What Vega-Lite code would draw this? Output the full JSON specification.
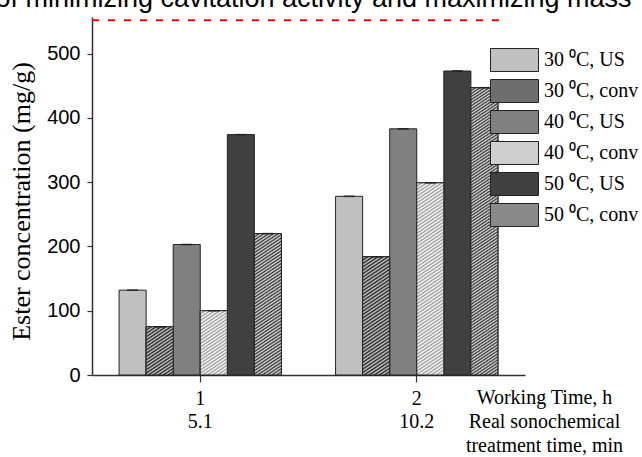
{
"$schema":"https://vega.github.io/schema/vega-lite/v6.json",
"width":433,"height":358,"autosize":"none",
"padding":{"left":92,"top":17,"right":117,"bottom":82},
"config":{"view":{"stroke":null}},
"title":{"text":"of minimizing cavitation activity and maximizing mass","font":"Liberation Sans","fontSize":27,"fontWeight":"normal","color":"#000","anchor":"middle","frame":"group","baseline":"alphabetic","offset":-1.5,"dx":5,"dy":15},
"layer":[
{"data":{"values":[
{"time":"1","series":"30 ⁰C, US","conc":132},
{"time":"1","series":"30 ⁰C, conv","conc":75},
{"time":"1","series":"40 ⁰C, US","conc":203},
{"time":"1","series":"40 ⁰C, conv","conc":100},
{"time":"1","series":"50 ⁰C, US","conc":374},
{"time":"1","series":"50 ⁰C, conv","conc":220},
{"time":"2","series":"30 ⁰C, US","conc":278},
{"time":"2","series":"30 ⁰C, conv","conc":184},
{"time":"2","series":"40 ⁰C, US","conc":383},
{"time":"2","series":"40 ⁰C, conv","conc":299},
{"time":"2","series":"50 ⁰C, US","conc":473},
{"time":"2","series":"50 ⁰C, conv","conc":447}]},
"encoding":{
"x":{"field":"time","type":"nominal","scale":{"domain":["1","2"],"paddingInner":0,"paddingOuter":0},
 "axis":{"title":["Working Time, h","Real sonochemical","treatment time, min"],"titleFont":"Liberation Serif","titleFontSize":20,"titleFontWeight":"normal","titleColor":"#000","titleX":452,"titleY":12,"titleAlign":"center","titleBaseline":"top","titleLineHeight":24,
 "labelAngle":0,"labelFont":"Liberation Serif","labelFontSize":20,"labelColor":"#000","labelBaseline":"alphabetic","labelPadding":22,
 "tickSize":7,"tickColor":"#333","tickWidth":1.2,"domainColor":"#333","domainWidth":1.5,"grid":false}},
"xOffset":{"field":"series","type":"nominal","scale":{"domain":["30 ⁰C, US","30 ⁰C, conv","40 ⁰C, US","40 ⁰C, conv","50 ⁰C, US","50 ⁰C, conv"],"paddingInner":0,"paddingOuter":3}},
"y":{"field":"conc","type":"quantitative","scale":{"domain":[0,557],"nice":false},
 "axis":{"title":"Ester concentration (mg/g)","titleFont":"Liberation Serif","titleFontSize":26,"titleFontWeight":"normal","titleColor":"#000","titleX":-58,"titleY":184,"titleAlign":"center","titleBaseline":"bottom","titleAngle":-90,
 "values":[0,50,100,150,200,250,300,350,400,450,500,550],"labelExpr":"datum.value % 100 === 0 ? datum.label : ''",
 "labelFont":"Liberation Sans","labelFontSize":20,"labelColor":"#000","labelPadding":7,"tickSize":5,"tickColor":"#333","tickWidth":1.2,"domainColor":"#333","domainWidth":1.5,"grid":false}}
},
"layer":[
{"mark":{"type":"bar","stroke":"#222","strokeWidth":1},
 "encoding":{"fill":{"field":"series","type":"nominal","scale":{"domain":["30 ⁰C, US","30 ⁰C, conv","40 ⁰C, US","40 ⁰C, conv","50 ⁰C, US","50 ⁰C, conv"],"range":["#c0c0c0","#6e6e6e","#808080","#cfcfcf","#404040","#8a8a8a"]},
 "legend":{"orient":"none","legendX":398,"legendY":31,"title":null,"padding":0,"symbolType":"M-1,-0.479H1V0.479H-1Z","symbolSize":2304,"symbolStrokeColor":"#222","symbolStrokeWidth":1,"symbolOpacity":1,"clipHeight":24,"rowPadding":7,"labelOffset":5,"labelFont":"Liberation Serif","labelFontSize":20,"labelColor":"#000","labelLimit":0}}}},
{"transform":[{"filter":"datum.time == '1' && datum.series == '30 ⁰C, conv'"}],
 "mark":{"type":"bar","stroke":"#222","strokeWidth":1,"fill":{"gradient":"linear","x1":0,"y1":0,"x2":0.4512,"y2":1.2054,"stops":[{"offset":0,"color":"#222"},{"offset":0.025,"color":"#ccc"},{"offset":0.05,"color":"#222"},{"offset":0.075,"color":"#ccc"},{"offset":0.1,"color":"#222"},{"offset":0.125,"color":"#ccc"},{"offset":0.15,"color":"#222"},{"offset":0.175,"color":"#ccc"},{"offset":0.2,"color":"#222"},{"offset":0.225,"color":"#ccc"},{"offset":0.25,"color":"#222"},{"offset":0.275,"color":"#ccc"},{"offset":0.3,"color":"#222"},{"offset":0.325,"color":"#ccc"},{"offset":0.35,"color":"#222"},{"offset":0.375,"color":"#ccc"},{"offset":0.4,"color":"#222"},{"offset":0.425,"color":"#ccc"},{"offset":0.45,"color":"#222"},{"offset":0.475,"color":"#ccc"},{"offset":0.5,"color":"#222"},{"offset":0.525,"color":"#ccc"},{"offset":0.55,"color":"#222"},{"offset":0.575,"color":"#ccc"},{"offset":0.6,"color":"#222"},{"offset":0.625,"color":"#ccc"},{"offset":0.65,"color":"#222"},{"offset":0.675,"color":"#ccc"},{"offset":0.7,"color":"#222"},{"offset":0.725,"color":"#ccc"},{"offset":0.75,"color":"#222"},{"offset":0.775,"color":"#ccc"},{"offset":0.8,"color":"#222"},{"offset":0.825,"color":"#ccc"},{"offset":0.85,"color":"#222"},{"offset":0.875,"color":"#ccc"},{"offset":0.9,"color":"#222"},{"offset":0.925,"color":"#ccc"},{"offset":0.95,"color":"#222"},{"offset":0.975,"color":"#ccc"},{"offset":1,"color":"#222"}]}}},
{"transform":[{"filter":"datum.time == '1' && datum.series == '40 ⁰C, conv'"}],
 "mark":{"type":"bar","stroke":"#222","strokeWidth":1,"fill":{"gradient":"linear","x1":0,"y1":0,"x2":0.3332,"y2":1.1872,"stops":[{"offset":0,"color":"#999"},{"offset":0.02,"color":"#fff"},{"offset":0.04,"color":"#999"},{"offset":0.06,"color":"#fff"},{"offset":0.08,"color":"#999"},{"offset":0.1,"color":"#fff"},{"offset":0.12,"color":"#999"},{"offset":0.14,"color":"#fff"},{"offset":0.16,"color":"#999"},{"offset":0.18,"color":"#fff"},{"offset":0.2,"color":"#999"},{"offset":0.22,"color":"#fff"},{"offset":0.24,"color":"#999"},{"offset":0.26,"color":"#fff"},{"offset":0.28,"color":"#999"},{"offset":0.3,"color":"#fff"},{"offset":0.32,"color":"#999"},{"offset":0.34,"color":"#fff"},{"offset":0.36,"color":"#999"},{"offset":0.38,"color":"#fff"},{"offset":0.4,"color":"#999"},{"offset":0.42,"color":"#fff"},{"offset":0.44,"color":"#999"},{"offset":0.46,"color":"#fff"},{"offset":0.48,"color":"#999"},{"offset":0.5,"color":"#fff"},{"offset":0.52,"color":"#999"},{"offset":0.54,"color":"#fff"},{"offset":0.56,"color":"#999"},{"offset":0.58,"color":"#fff"},{"offset":0.6,"color":"#999"},{"offset":0.62,"color":"#fff"},{"offset":0.64,"color":"#999"},{"offset":0.66,"color":"#fff"},{"offset":0.68,"color":"#999"},{"offset":0.7,"color":"#fff"},{"offset":0.72,"color":"#999"},{"offset":0.74,"color":"#fff"},{"offset":0.76,"color":"#999"},{"offset":0.78,"color":"#fff"},{"offset":0.8,"color":"#999"},{"offset":0.82,"color":"#fff"},{"offset":0.84,"color":"#999"},{"offset":0.86,"color":"#fff"},{"offset":0.88,"color":"#999"},{"offset":0.9,"color":"#fff"},{"offset":0.92,"color":"#999"},{"offset":0.94,"color":"#fff"},{"offset":0.96,"color":"#999"},{"offset":0.98,"color":"#fff"},{"offset":1,"color":"#999"}]}}},
{"transform":[{"filter":"datum.time == '1' && datum.series == '50 ⁰C, conv'"}],
 "mark":{"type":"bar","stroke":"#222","strokeWidth":1,"fill":{"gradient":"linear","x1":0,"y1":0,"x2":0.1416,"y2":1.1095,"stops":[{"offset":0,"color":"#333"},{"offset":0.01,"color":"#ddd"},{"offset":0.02,"color":"#333"},{"offset":0.03,"color":"#ddd"},{"offset":0.04,"color":"#333"},{"offset":0.05,"color":"#ddd"},{"offset":0.06,"color":"#333"},{"offset":0.07,"color":"#ddd"},{"offset":0.08,"color":"#333"},{"offset":0.09,"color":"#ddd"},{"offset":0.1,"color":"#333"},{"offset":0.11,"color":"#ddd"},{"offset":0.12,"color":"#333"},{"offset":0.13,"color":"#ddd"},{"offset":0.14,"color":"#333"},{"offset":0.15,"color":"#ddd"},{"offset":0.16,"color":"#333"},{"offset":0.17,"color":"#ddd"},{"offset":0.18,"color":"#333"},{"offset":0.19,"color":"#ddd"},{"offset":0.2,"color":"#333"},{"offset":0.21,"color":"#ddd"},{"offset":0.22,"color":"#333"},{"offset":0.23,"color":"#ddd"},{"offset":0.24,"color":"#333"},{"offset":0.25,"color":"#ddd"},{"offset":0.26,"color":"#333"},{"offset":0.27,"color":"#ddd"},{"offset":0.28,"color":"#333"},{"offset":0.29,"color":"#ddd"},{"offset":0.3,"color":"#333"},{"offset":0.31,"color":"#ddd"},{"offset":0.32,"color":"#333"},{"offset":0.33,"color":"#ddd"},{"offset":0.34,"color":"#333"},{"offset":0.35,"color":"#ddd"},{"offset":0.36,"color":"#333"},{"offset":0.37,"color":"#ddd"},{"offset":0.38,"color":"#333"},{"offset":0.39,"color":"#ddd"},{"offset":0.4,"color":"#333"},{"offset":0.41,"color":"#ddd"},{"offset":0.42,"color":"#333"},{"offset":0.43,"color":"#ddd"},{"offset":0.44,"color":"#333"},{"offset":0.45,"color":"#ddd"},{"offset":0.46,"color":"#333"},{"offset":0.47,"color":"#ddd"},{"offset":0.48,"color":"#333"},{"offset":0.49,"color":"#ddd"},{"offset":0.5,"color":"#333"},{"offset":0.51,"color":"#ddd"},{"offset":0.52,"color":"#333"},{"offset":0.53,"color":"#ddd"},{"offset":0.54,"color":"#333"},{"offset":0.55,"color":"#ddd"},{"offset":0.56,"color":"#333"},{"offset":0.57,"color":"#ddd"},{"offset":0.58,"color":"#333"},{"offset":0.59,"color":"#ddd"},{"offset":0.6,"color":"#333"},{"offset":0.61,"color":"#ddd"},{"offset":0.62,"color":"#333"},{"offset":0.63,"color":"#ddd"},{"offset":0.64,"color":"#333"},{"offset":0.65,"color":"#ddd"},{"offset":0.66,"color":"#333"},{"offset":0.67,"color":"#ddd"},{"offset":0.68,"color":"#333"},{"offset":0.69,"color":"#ddd"},{"offset":0.7,"color":"#333"},{"offset":0.71,"color":"#ddd"},{"offset":0.72,"color":"#333"},{"offset":0.73,"color":"#ddd"},{"offset":0.74,"color":"#333"},{"offset":0.75,"color":"#ddd"},{"offset":0.76,"color":"#333"},{"offset":0.77,"color":"#ddd"},{"offset":0.78,"color":"#333"},{"offset":0.79,"color":"#ddd"},{"offset":0.8,"color":"#333"},{"offset":0.81,"color":"#ddd"},{"offset":0.82,"color":"#333"},{"offset":0.83,"color":"#ddd"},{"offset":0.84,"color":"#333"},{"offset":0.85,"color":"#ddd"},{"offset":0.86,"color":"#333"},{"offset":0.87,"color":"#ddd"},{"offset":0.88,"color":"#333"},{"offset":0.89,"color":"#ddd"},{"offset":0.9,"color":"#333"},{"offset":0.91,"color":"#ddd"},{"offset":0.92,"color":"#333"},{"offset":0.93,"color":"#ddd"},{"offset":0.94,"color":"#333"},{"offset":0.95,"color":"#ddd"},{"offset":0.96,"color":"#333"},{"offset":0.97,"color":"#ddd"},{"offset":0.98,"color":"#333"},{"offset":0.99,"color":"#ddd"},{"offset":1,"color":"#333"}]}}},
{"transform":[{"filter":"datum.time == '2' && datum.series == '30 ⁰C, conv'"}],
 "mark":{"type":"bar","stroke":"#222","strokeWidth":1,"fill":{"gradient":"linear","x1":0,"y1":0,"x2":0.1718,"y2":1.1263,"stops":[{"offset":0,"color":"#222"},{"offset":0.0125,"color":"#ccc"},{"offset":0.025,"color":"#222"},{"offset":0.0375,"color":"#ccc"},{"offset":0.05,"color":"#222"},{"offset":0.0625,"color":"#ccc"},{"offset":0.075,"color":"#222"},{"offset":0.0875,"color":"#ccc"},{"offset":0.1,"color":"#222"},{"offset":0.1125,"color":"#ccc"},{"offset":0.125,"color":"#222"},{"offset":0.1375,"color":"#ccc"},{"offset":0.15,"color":"#222"},{"offset":0.1625,"color":"#ccc"},{"offset":0.175,"color":"#222"},{"offset":0.1875,"color":"#ccc"},{"offset":0.2,"color":"#222"},{"offset":0.2125,"color":"#ccc"},{"offset":0.225,"color":"#222"},{"offset":0.2375,"color":"#ccc"},{"offset":0.25,"color":"#222"},{"offset":0.2625,"color":"#ccc"},{"offset":0.275,"color":"#222"},{"offset":0.2875,"color":"#ccc"},{"offset":0.3,"color":"#222"},{"offset":0.3125,"color":"#ccc"},{"offset":0.325,"color":"#222"},{"offset":0.3375,"color":"#ccc"},{"offset":0.35,"color":"#222"},{"offset":0.3625,"color":"#ccc"},{"offset":0.375,"color":"#222"},{"offset":0.3875,"color":"#ccc"},{"offset":0.4,"color":"#222"},{"offset":0.4125,"color":"#ccc"},{"offset":0.425,"color":"#222"},{"offset":0.4375,"color":"#ccc"},{"offset":0.45,"color":"#222"},{"offset":0.4625,"color":"#ccc"},{"offset":0.475,"color":"#222"},{"offset":0.4875,"color":"#ccc"},{"offset":0.5,"color":"#222"},{"offset":0.5125,"color":"#ccc"},{"offset":0.525,"color":"#222"},{"offset":0.5375,"color":"#ccc"},{"offset":0.55,"color":"#222"},{"offset":0.5625,"color":"#ccc"},{"offset":0.575,"color":"#222"},{"offset":0.5875,"color":"#ccc"},{"offset":0.6,"color":"#222"},{"offset":0.6125,"color":"#ccc"},{"offset":0.625,"color":"#222"},{"offset":0.6375,"color":"#ccc"},{"offset":0.65,"color":"#222"},{"offset":0.6625,"color":"#ccc"},{"offset":0.675,"color":"#222"},{"offset":0.6875,"color":"#ccc"},{"offset":0.7,"color":"#222"},{"offset":0.7125,"color":"#ccc"},{"offset":0.725,"color":"#222"},{"offset":0.7375,"color":"#ccc"},{"offset":0.75,"color":"#222"},{"offset":0.7625,"color":"#ccc"},{"offset":0.775,"color":"#222"},{"offset":0.7875,"color":"#ccc"},{"offset":0.8,"color":"#222"},{"offset":0.8125,"color":"#ccc"},{"offset":0.825,"color":"#222"},{"offset":0.8375,"color":"#ccc"},{"offset":0.85,"color":"#222"},{"offset":0.8625,"color":"#ccc"},{"offset":0.875,"color":"#222"},{"offset":0.8875,"color":"#ccc"},{"offset":0.9,"color":"#222"},{"offset":0.9125,"color":"#ccc"},{"offset":0.925,"color":"#222"},{"offset":0.9375,"color":"#ccc"},{"offset":0.95,"color":"#222"},{"offset":0.9625,"color":"#ccc"},{"offset":0.975,"color":"#222"},{"offset":0.9875,"color":"#ccc"},{"offset":1,"color":"#222"}]}}},
{"transform":[{"filter":"datum.time == '2' && datum.series == '40 ⁰C, conv'"}],
 "mark":{"type":"bar","stroke":"#222","strokeWidth":1,"fill":{"gradient":"linear","x1":0,"y1":0,"x2":0.1018,"y2":1.0843,"stops":[{"offset":0,"color":"#999"},{"offset":0.008,"color":"#fff"},{"offset":0.016,"color":"#999"},{"offset":0.024,"color":"#fff"},{"offset":0.032,"color":"#999"},{"offset":0.04,"color":"#fff"},{"offset":0.048,"color":"#999"},{"offset":0.056,"color":"#fff"},{"offset":0.064,"color":"#999"},{"offset":0.072,"color":"#fff"},{"offset":0.08,"color":"#999"},{"offset":0.088,"color":"#fff"},{"offset":0.096,"color":"#999"},{"offset":0.104,"color":"#fff"},{"offset":0.112,"color":"#999"},{"offset":0.12,"color":"#fff"},{"offset":0.128,"color":"#999"},{"offset":0.136,"color":"#fff"},{"offset":0.144,"color":"#999"},{"offset":0.152,"color":"#fff"},{"offset":0.16,"color":"#999"},{"offset":0.168,"color":"#fff"},{"offset":0.176,"color":"#999"},{"offset":0.184,"color":"#fff"},{"offset":0.192,"color":"#999"},{"offset":0.2,"color":"#fff"},{"offset":0.208,"color":"#999"},{"offset":0.216,"color":"#fff"},{"offset":0.224,"color":"#999"},{"offset":0.232,"color":"#fff"},{"offset":0.24,"color":"#999"},{"offset":0.248,"color":"#fff"},{"offset":0.256,"color":"#999"},{"offset":0.264,"color":"#fff"},{"offset":0.272,"color":"#999"},{"offset":0.28,"color":"#fff"},{"offset":0.288,"color":"#999"},{"offset":0.296,"color":"#fff"},{"offset":0.304,"color":"#999"},{"offset":0.312,"color":"#fff"},{"offset":0.32,"color":"#999"},{"offset":0.328,"color":"#fff"},{"offset":0.336,"color":"#999"},{"offset":0.344,"color":"#fff"},{"offset":0.352,"color":"#999"},{"offset":0.36,"color":"#fff"},{"offset":0.368,"color":"#999"},{"offset":0.376,"color":"#fff"},{"offset":0.384,"color":"#999"},{"offset":0.392,"color":"#fff"},{"offset":0.4,"color":"#999"},{"offset":0.408,"color":"#fff"},{"offset":0.416,"color":"#999"},{"offset":0.424,"color":"#fff"},{"offset":0.432,"color":"#999"},{"offset":0.44,"color":"#fff"},{"offset":0.448,"color":"#999"},{"offset":0.456,"color":"#fff"},{"offset":0.464,"color":"#999"},{"offset":0.472,"color":"#fff"},{"offset":0.48,"color":"#999"},{"offset":0.488,"color":"#fff"},{"offset":0.496,"color":"#999"},{"offset":0.504,"color":"#fff"},{"offset":0.512,"color":"#999"},{"offset":0.52,"color":"#fff"},{"offset":0.528,"color":"#999"},{"offset":0.536,"color":"#fff"},{"offset":0.544,"color":"#999"},{"offset":0.552,"color":"#fff"},{"offset":0.56,"color":"#999"},{"offset":0.568,"color":"#fff"},{"offset":0.576,"color":"#999"},{"offset":0.584,"color":"#fff"},{"offset":0.592,"color":"#999"},{"offset":0.6,"color":"#fff"},{"offset":0.608,"color":"#999"},{"offset":0.616,"color":"#fff"},{"offset":0.624,"color":"#999"},{"offset":0.632,"color":"#fff"},{"offset":0.64,"color":"#999"},{"offset":0.648,"color":"#fff"},{"offset":0.656,"color":"#999"},{"offset":0.664,"color":"#fff"},{"offset":0.672,"color":"#999"},{"offset":0.68,"color":"#fff"},{"offset":0.688,"color":"#999"},{"offset":0.696,"color":"#fff"},{"offset":0.704,"color":"#999"},{"offset":0.712,"color":"#fff"},{"offset":0.72,"color":"#999"},{"offset":0.728,"color":"#fff"},{"offset":0.736,"color":"#999"},{"offset":0.744,"color":"#fff"},{"offset":0.752,"color":"#999"},{"offset":0.76,"color":"#fff"},{"offset":0.768,"color":"#999"},{"offset":0.776,"color":"#fff"},{"offset":0.784,"color":"#999"},{"offset":0.792,"color":"#fff"},{"offset":0.8,"color":"#999"},{"offset":0.808,"color":"#fff"},{"offset":0.816,"color":"#999"},{"offset":0.824,"color":"#fff"},{"offset":0.832,"color":"#999"},{"offset":0.84,"color":"#fff"},{"offset":0.848,"color":"#999"},{"offset":0.856,"color":"#fff"},{"offset":0.864,"color":"#999"},{"offset":0.872,"color":"#fff"},{"offset":0.88,"color":"#999"},{"offset":0.888,"color":"#fff"},{"offset":0.896,"color":"#999"},{"offset":0.904,"color":"#fff"},{"offset":0.912,"color":"#999"},{"offset":0.92,"color":"#fff"},{"offset":0.928,"color":"#999"},{"offset":0.936,"color":"#fff"},{"offset":0.944,"color":"#999"},{"offset":0.952,"color":"#fff"},{"offset":0.96,"color":"#999"},{"offset":0.968,"color":"#fff"},{"offset":0.976,"color":"#999"},{"offset":0.984,"color":"#fff"},{"offset":0.992,"color":"#999"},{"offset":1,"color":"#fff"}]}}},
{"transform":[{"filter":"datum.time == '2' && datum.series == '50 ⁰C, conv'"}],
 "mark":{"type":"bar","stroke":"#222","strokeWidth":1,"fill":{"gradient":"linear","x1":0,"y1":0,"x2":0.0665,"y2":1.0586,"stops":[{"offset":0,"color":"#333"},{"offset":0.005,"color":"#ddd"},{"offset":0.01,"color":"#333"},{"offset":0.015,"color":"#ddd"},{"offset":0.02,"color":"#333"},{"offset":0.025,"color":"#ddd"},{"offset":0.03,"color":"#333"},{"offset":0.035,"color":"#ddd"},{"offset":0.04,"color":"#333"},{"offset":0.045,"color":"#ddd"},{"offset":0.05,"color":"#333"},{"offset":0.055,"color":"#ddd"},{"offset":0.06,"color":"#333"},{"offset":0.065,"color":"#ddd"},{"offset":0.07,"color":"#333"},{"offset":0.075,"color":"#ddd"},{"offset":0.08,"color":"#333"},{"offset":0.085,"color":"#ddd"},{"offset":0.09,"color":"#333"},{"offset":0.095,"color":"#ddd"},{"offset":0.1,"color":"#333"},{"offset":0.105,"color":"#ddd"},{"offset":0.11,"color":"#333"},{"offset":0.115,"color":"#ddd"},{"offset":0.12,"color":"#333"},{"offset":0.125,"color":"#ddd"},{"offset":0.13,"color":"#333"},{"offset":0.135,"color":"#ddd"},{"offset":0.14,"color":"#333"},{"offset":0.145,"color":"#ddd"},{"offset":0.15,"color":"#333"},{"offset":0.155,"color":"#ddd"},{"offset":0.16,"color":"#333"},{"offset":0.165,"color":"#ddd"},{"offset":0.17,"color":"#333"},{"offset":0.175,"color":"#ddd"},{"offset":0.18,"color":"#333"},{"offset":0.185,"color":"#ddd"},{"offset":0.19,"color":"#333"},{"offset":0.195,"color":"#ddd"},{"offset":0.2,"color":"#333"},{"offset":0.205,"color":"#ddd"},{"offset":0.21,"color":"#333"},{"offset":0.215,"color":"#ddd"},{"offset":0.22,"color":"#333"},{"offset":0.225,"color":"#ddd"},{"offset":0.23,"color":"#333"},{"offset":0.235,"color":"#ddd"},{"offset":0.24,"color":"#333"},{"offset":0.245,"color":"#ddd"},{"offset":0.25,"color":"#333"},{"offset":0.255,"color":"#ddd"},{"offset":0.26,"color":"#333"},{"offset":0.265,"color":"#ddd"},{"offset":0.27,"color":"#333"},{"offset":0.275,"color":"#ddd"},{"offset":0.28,"color":"#333"},{"offset":0.285,"color":"#ddd"},{"offset":0.29,"color":"#333"},{"offset":0.295,"color":"#ddd"},{"offset":0.3,"color":"#333"},{"offset":0.305,"color":"#ddd"},{"offset":0.31,"color":"#333"},{"offset":0.315,"color":"#ddd"},{"offset":0.32,"color":"#333"},{"offset":0.325,"color":"#ddd"},{"offset":0.33,"color":"#333"},{"offset":0.335,"color":"#ddd"},{"offset":0.34,"color":"#333"},{"offset":0.345,"color":"#ddd"},{"offset":0.35,"color":"#333"},{"offset":0.355,"color":"#ddd"},{"offset":0.36,"color":"#333"},{"offset":0.365,"color":"#ddd"},{"offset":0.37,"color":"#333"},{"offset":0.375,"color":"#ddd"},{"offset":0.38,"color":"#333"},{"offset":0.385,"color":"#ddd"},{"offset":0.39,"color":"#333"},{"offset":0.395,"color":"#ddd"},{"offset":0.4,"color":"#333"},{"offset":0.405,"color":"#ddd"},{"offset":0.41,"color":"#333"},{"offset":0.415,"color":"#ddd"},{"offset":0.42,"color":"#333"},{"offset":0.425,"color":"#ddd"},{"offset":0.43,"color":"#333"},{"offset":0.435,"color":"#ddd"},{"offset":0.44,"color":"#333"},{"offset":0.445,"color":"#ddd"},{"offset":0.45,"color":"#333"},{"offset":0.455,"color":"#ddd"},{"offset":0.46,"color":"#333"},{"offset":0.465,"color":"#ddd"},{"offset":0.47,"color":"#333"},{"offset":0.475,"color":"#ddd"},{"offset":0.48,"color":"#333"},{"offset":0.485,"color":"#ddd"},{"offset":0.49,"color":"#333"},{"offset":0.495,"color":"#ddd"},{"offset":0.5,"color":"#333"},{"offset":0.505,"color":"#ddd"},{"offset":0.51,"color":"#333"},{"offset":0.515,"color":"#ddd"},{"offset":0.52,"color":"#333"},{"offset":0.525,"color":"#ddd"},{"offset":0.53,"color":"#333"},{"offset":0.535,"color":"#ddd"},{"offset":0.54,"color":"#333"},{"offset":0.545,"color":"#ddd"},{"offset":0.55,"color":"#333"},{"offset":0.555,"color":"#ddd"},{"offset":0.56,"color":"#333"},{"offset":0.565,"color":"#ddd"},{"offset":0.57,"color":"#333"},{"offset":0.575,"color":"#ddd"},{"offset":0.58,"color":"#333"},{"offset":0.585,"color":"#ddd"},{"offset":0.59,"color":"#333"},{"offset":0.595,"color":"#ddd"},{"offset":0.6,"color":"#333"},{"offset":0.605,"color":"#ddd"},{"offset":0.61,"color":"#333"},{"offset":0.615,"color":"#ddd"},{"offset":0.62,"color":"#333"},{"offset":0.625,"color":"#ddd"},{"offset":0.63,"color":"#333"},{"offset":0.635,"color":"#ddd"},{"offset":0.64,"color":"#333"},{"offset":0.645,"color":"#ddd"},{"offset":0.65,"color":"#333"},{"offset":0.655,"color":"#ddd"},{"offset":0.66,"color":"#333"},{"offset":0.665,"color":"#ddd"},{"offset":0.67,"color":"#333"},{"offset":0.675,"color":"#ddd"},{"offset":0.68,"color":"#333"},{"offset":0.685,"color":"#ddd"},{"offset":0.69,"color":"#333"},{"offset":0.695,"color":"#ddd"},{"offset":0.7,"color":"#333"},{"offset":0.705,"color":"#ddd"},{"offset":0.71,"color":"#333"},{"offset":0.715,"color":"#ddd"},{"offset":0.72,"color":"#333"},{"offset":0.725,"color":"#ddd"},{"offset":0.73,"color":"#333"},{"offset":0.735,"color":"#ddd"},{"offset":0.74,"color":"#333"},{"offset":0.745,"color":"#ddd"},{"offset":0.75,"color":"#333"},{"offset":0.755,"color":"#ddd"},{"offset":0.76,"color":"#333"},{"offset":0.765,"color":"#ddd"},{"offset":0.77,"color":"#333"},{"offset":0.775,"color":"#ddd"},{"offset":0.78,"color":"#333"},{"offset":0.785,"color":"#ddd"},{"offset":0.79,"color":"#333"},{"offset":0.795,"color":"#ddd"},{"offset":0.8,"color":"#333"},{"offset":0.805,"color":"#ddd"},{"offset":0.81,"color":"#333"},{"offset":0.815,"color":"#ddd"},{"offset":0.82,"color":"#333"},{"offset":0.825,"color":"#ddd"},{"offset":0.83,"color":"#333"},{"offset":0.835,"color":"#ddd"},{"offset":0.84,"color":"#333"},{"offset":0.845,"color":"#ddd"},{"offset":0.85,"color":"#333"},{"offset":0.855,"color":"#ddd"},{"offset":0.86,"color":"#333"},{"offset":0.865,"color":"#ddd"},{"offset":0.87,"color":"#333"},{"offset":0.875,"color":"#ddd"},{"offset":0.88,"color":"#333"},{"offset":0.885,"color":"#ddd"},{"offset":0.89,"color":"#333"},{"offset":0.895,"color":"#ddd"},{"offset":0.9,"color":"#333"},{"offset":0.905,"color":"#ddd"},{"offset":0.91,"color":"#333"},{"offset":0.915,"color":"#ddd"},{"offset":0.92,"color":"#333"},{"offset":0.925,"color":"#ddd"},{"offset":0.93,"color":"#333"},{"offset":0.935,"color":"#ddd"},{"offset":0.94,"color":"#333"},{"offset":0.945,"color":"#ddd"},{"offset":0.95,"color":"#333"},{"offset":0.955,"color":"#ddd"},{"offset":0.96,"color":"#333"},{"offset":0.965,"color":"#ddd"},{"offset":0.97,"color":"#333"},{"offset":0.975,"color":"#ddd"},{"offset":0.98,"color":"#333"},{"offset":0.985,"color":"#ddd"},{"offset":0.99,"color":"#333"},{"offset":0.995,"color":"#ddd"},{"offset":1,"color":"#333"}]}}},
{"mark":{"type":"tick","orient":"horizontal","size":11,"thickness":1.5,"color":"#222","opacity":1}}
]},
{"data":{"values":[{"time":"1","sono":"5.1"},{"time":"2","sono":"10.2"}]},
 "mark":{"type":"text","font":"Liberation Serif","fontSize":20,"color":"#000","baseline":"alphabetic","align":"center","dy":53},
 "encoding":{"x":{"field":"time","type":"nominal"},"y":{"datum":0},"text":{"field":"sono"}}},
{"data":{"values":[{"level":552}]},
 "mark":{"type":"rule","color":"#ff0000","strokeWidth":2,"strokeDash":[7,9]},
 "encoding":{"y":{"field":"level","type":"quantitative"},"x":{"datum":"1","type":"nominal","bandPosition":0},"x2":{"datum":"2","bandPosition":0.9}}}
]
}
